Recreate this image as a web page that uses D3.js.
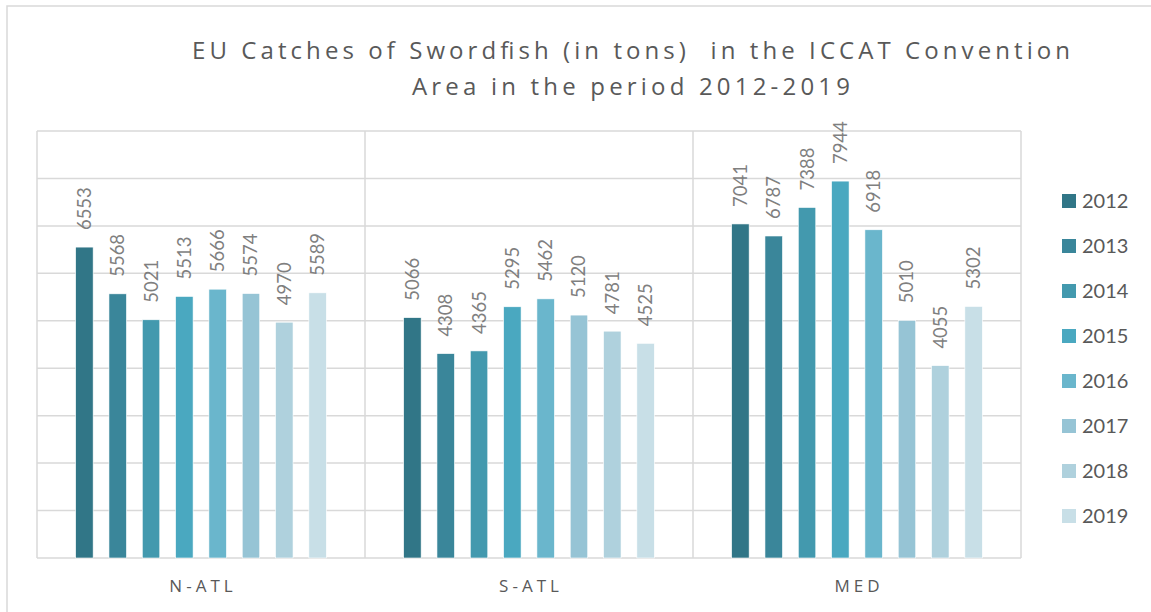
<!DOCTYPE html>
<html>
<head>
<meta charset="utf-8">
<script src="https://cdn.jsdelivr.net/npm/d3@7"></script>
<style>
  body { margin: 0; background: #fff; }
  svg { display: block; }
</style>
</head>
<body>
<svg id="viz" width="1151" height="612"></svg>
<script>
// regions and years
const regions = ['N-ATL', 'S-ATL', 'MED']
const years = ['2012', '2013', '2014', '2015', '2016', '2017', '2018', '2019']
// catches per year, one array per region (tons)
const natl = [6553, 5568, 5021, 5513, 5666, 5574, 4970, 5589]
const satl = [5066, 4308, 4365, 5295, 5462, 5120, 4781, 4525]
const med  = [7041, 6787, 7388, 7944, 6918, 5010, 4055, 5302]
const yTicks = [0, 1000, 2000, 3000, 4000, 5000, 6000, 7000, 8000, 9000]

const colors = ['#317687', '#3a869a', '#4399ae', '#4aa8c0', '#6ab6cc', '#96c4d5', '#afd1dd', '#c8dfe7']

const rows = [natl, satl, med].map((vals, r) => ({
  region: regions[r],
  values: vals.map((v, i) => ({ year: years[i], value: v }))
}))

const svg = d3.select('#viz')
const grey = '#d9d9d9'

// outer chart border
svg.append('rect')
  .attr('x', 7).attr('y', 6)
  .attr('width', 1160).attr('height', 620)
  .style('fill', 'none').style('stroke', grey).style('stroke-width', 1.5)

// title
const title = svg.append('g').style('fill', '#595959')
  .style('font-family', '"Open Sans", sans-serif').style('font-size', '24px')
title.append('text').attr('x', 192).attr('y', 59)
  .attr('textLength', 878).attr('lengthAdjust', 'spacing')
  .style('white-space', 'pre')
  .text('EU Catches of Swordfish (in tons)  in the ICCAT Convention')
title.append('text').attr('x', 412).attr('y', 95)
  .attr('textLength', 438).attr('lengthAdjust', 'spacing')
  .text('Area in the period 2012-2019')

const plotL = 37, plotR = 1021, plotT = 131, plotB = 558

let x0 = d3.scaleBand().domain(regions).range([plotL, plotR])
let x1 = d3.scaleBand().domain(years).range([0, x0.bandwidth()])
  .paddingInner(0.475).paddingOuter(1.16)
let y = d3.scaleLinear().domain([0, 9000]).range([plotB, plotT])

// gridlines
svg.append('g').selectAll('line')
  .data(yTicks)
  .enter()
  .append('line')
  .attr('x1', plotL).attr('x2', plotR)
  .attr('y1', d => y(d)).attr('y2', d => y(d))
  .style('stroke', grey).style('stroke-width', 1.5)

// category separators + plot sides
svg.append('g').selectAll('line')
  .data(regions.map(r => x0(r)).concat([plotR]))
  .enter()
  .append('line')
  .attr('x1', d => d).attr('x2', d => d)
  .attr('y1', plotT).attr('y2', plotB)
  .style('stroke', grey).style('stroke-width', 1.5)

let groups = svg.selectAll('.region')
  .data(rows)
  .enter()
  .append('g')
  .attr('class', 'region')
  .attr('transform', d => `translate(${x0(d.region)},0)`)

groups.selectAll('rect')
  .data(d => d.values)
  .enter()
  .append('rect')
  .attr('x', d => x1(d.year))
  .attr('y', d => y(d.value))
  .attr('width', x1.bandwidth())
  .attr('height', d => plotB - y(d.value))
  .style('fill', (d, i) => colors[i])
  .style('stroke', '#fff').style('stroke-width', 0.6)

// rotated value labels
groups.selectAll('.valLabel')
  .data(d => d.values)
  .enter()
  .append('text')
  .attr('class', 'valLabel')
  .attr('transform', d => `translate(${x1(d.year) + x1.bandwidth() / 2 + 6.5},${y(d.value) - 17}) rotate(-90)`)
  .style('fill', '#7f7f7f')
  .style('font-family', 'Lato, sans-serif').style('font-size', '18.5px')
  .text(d => d.value)

// category labels
svg.append('g').selectAll('text')
  .data(regions)
  .enter()
  .append('text')
  .attr('x', d => x0(d) + x0.bandwidth() / 2 + 2)
  .attr('y', 592)
  .attr('text-anchor', 'middle')
  .style('fill', '#595959')
  .style('font-family', '"Open Sans", sans-serif').style('font-size', '17px')
  .style('letter-spacing', '4px')
  .text(d => d)

// legend
let legend = svg.append('g').selectAll('g')
  .data(years)
  .enter()
  .append('g')
  .attr('transform', (d, i) => `translate(1062,${194 + i * 45})`)
legend.append('rect')
  .attr('width', 14).attr('height', 14)
  .style('fill', (d, i) => colors[i])
legend.append('text')
  .attr('x', 20).attr('y', 14)
  .style('fill', '#595959')
  .style('font-family', 'Lato, sans-serif').style('font-size', '20px')
  .text(d => d)
</script>
</body>
</html>
